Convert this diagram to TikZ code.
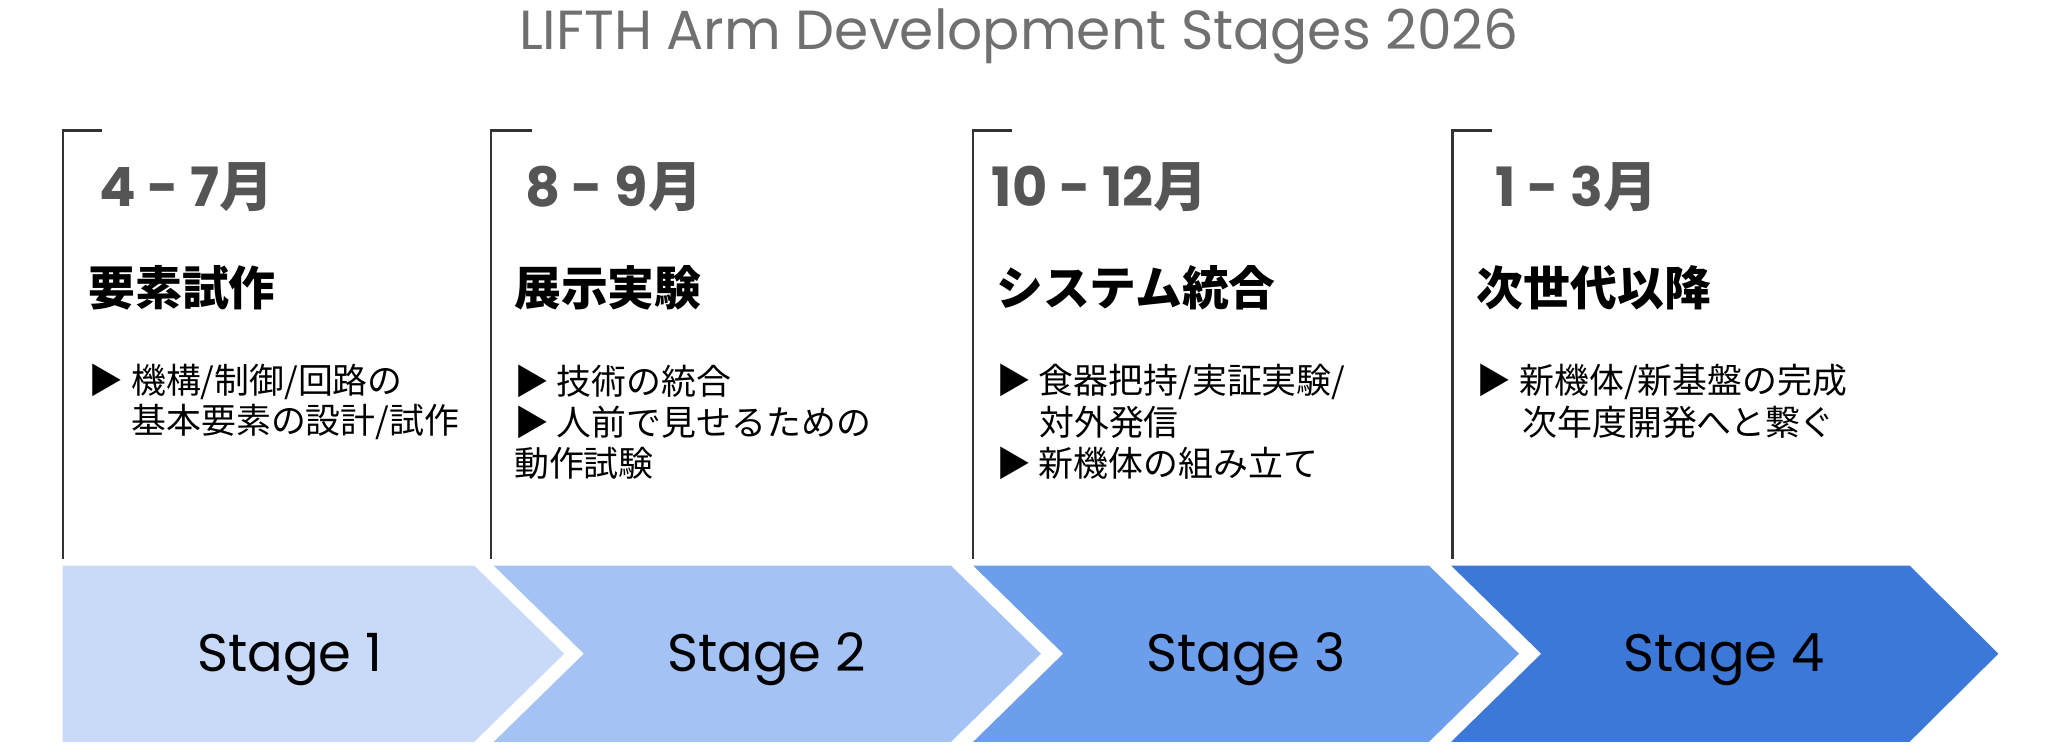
\documentclass[tikz,border=0pt]{standalone}
\usepackage{fontspec}
\setmainfont{Poppins}
\newfontfamily\jp{Noto Sans CJK JP}
\definecolor{stageA}{HTML}{C9DAF8}
\definecolor{stageB}{HTML}{A4C2F4}
\definecolor{stageC}{HTML}{6D9EEB}
\definecolor{stageD}{HTML}{3C78D8}
\definecolor{titlegray}{HTML}{707070}
\definecolor{monthgray}{HTML}{555555}
\definecolor{linegray}{HTML}{333333}
\tikzset{
  bracket/.style={line width=0.5pt, color=linegray},
  monthlabel/.style={font=\bfseries\fontsize{11.8}{13}\selectfont, text=monthgray, inner sep=0pt},
  headlabel/.style={font=\jp\bfseries\fontsize{10.2}{12}\selectfont, anchor=west, inner sep=0pt},
  itemlabel/.style={font=\jp\fontsize{7.6}{9}\selectfont, anchor=west, inner sep=0pt},
  stagelabel/.style={font=\fontsize{11.5}{13}\selectfont, inner sep=0pt}
}
\begin{document}
\begin{tikzpicture}[x=0.1mm, y=-0.1mm]
			%%%%% START %%%%%
			\useasboundingbox (0, 0) rectangle (1568, 576.5);
			
			\node[font=\fontsize{12}{14}\selectfont, text=titlegray, inner sep=0pt] (title) at (780, 28) {LIFTH Arm Development Stages 2026};
			
			% stage arrows
			\fill[stageA] (48, 433) -- (363, 433) -- (432, 500.5) -- (363, 568) -- (48, 568) -- cycle;
			\fill[stageB] (378, 433) -- (728, 433) -- (797, 500.5) -- (728, 568) -- (378, 568) -- (447, 500.5) -- cycle;
			\fill[stageC] (745, 433) -- (1094, 433) -- (1163, 500.5) -- (1094, 568) -- (745, 568) -- (814, 500.5) -- cycle;
			\fill[stageD] (1111, 433) -- (1462, 433) -- (1530, 500.5) -- (1462, 568) -- (1111, 568) -- (1180, 500.5) -- cycle;
			
			\node[stagelabel] (stageone) at (222, 505) {Stage 1};
			\node[stagelabel] (stagetwo) at (587, 505) {Stage 2};
			\node[stagelabel] (stagethree) at (954, 505) {Stage 3};
			\node[stagelabel] (stagefour) at (1320, 505) {Stage 4};
			
			% brackets
			\draw[bracket] (78, 100) -- (48, 100) -- (48, 428);
			\draw[bracket] (407, 100) -- (376, 100) -- (376, 428);
			\draw[bracket] (775, 100) -- (745, 100) -- (745, 428);
			\draw[bracket] (1142, 100) -- (1112, 100) -- (1112, 428);
			
			% stage 1
			\node[monthlabel] (monthone) at (143, 143) {4 - 7{\jp 月}};
			\node[headlabel] (headone) at (67, 220) {要素試作};
			\node[itemlabel] (itemonea) at (67, 292) {▶ 機構/制御/回路の};
			\node[itemlabel] (itemoneb) at (100, 323) {基本要素の設計/試作};
			
			% stage 2
			\node[monthlabel] (monthtwo) at (470, 143) {8 - 9{\jp 月}};
			\node[headlabel] (headtwo) at (393, 220) {展示実験};
			\node[itemlabel] (itemtwoa) at (393, 292) {▶ 技術の統合};
			\node[itemlabel] (itemtwob) at (393, 323) {▶ 人前で見せるための};
			\node[itemlabel] (itemtwoc) at (393, 355) {動作試験};
			
			% stage 3
			\node[monthlabel] (monththree) at (842, 143) {10 - 12{\jp 月}};
			\node[headlabel] (headthree) at (762, 220) {システム統合};
			\node[itemlabel] (itemthreea) at (762, 292) {▶ 食器把持/実証実験/};
			\node[itemlabel] (itemthreeb) at (795, 323) {対外発信};
			\node[itemlabel] (itemthreec) at (762, 355) {▶ 新機体の組み立て};
			
			% stage 4
			\node[monthlabel] (monthfour) at (1207, 143) {1 - 3{\jp 月}};
			\node[headlabel] (headfour) at (1130, 220) {次世代以降};
			\node[itemlabel] (itemfoura) at (1130, 292) {▶ 新機体/新基盤の完成};
			\node[itemlabel] (itemfourb) at (1165, 323) {次年度開発へと繋ぐ};
			
			%%%%% END %%%%%
\end{tikzpicture}
\end{document}
